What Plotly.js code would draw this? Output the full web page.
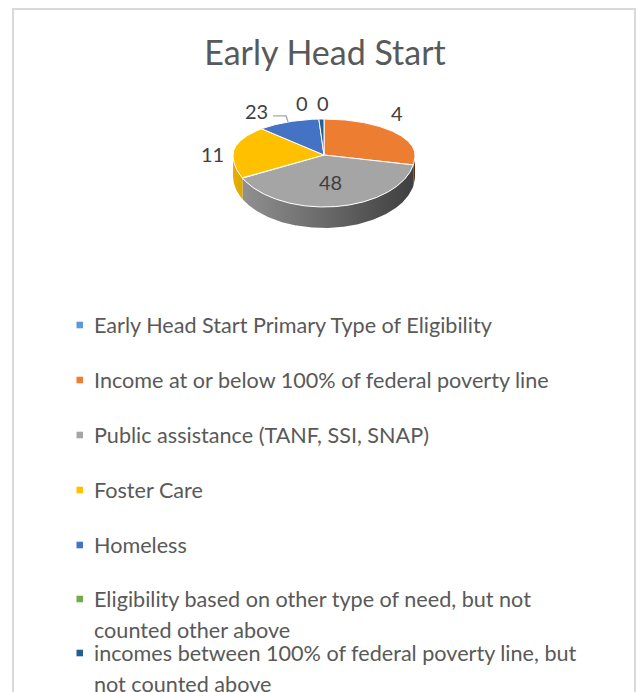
<!DOCTYPE html>
<html>
<head>
<meta charset="utf-8">
<script src="https://cdn.plot.ly/plotly-3.0.1.min.js"></script>
<style>html,body{margin:0;padding:0;background:#fff}#chart{width:642px;height:692px}</style>
</head>
<body>
<div id="chart"></div>
<script>
// ---------- data ----------
const chartTitle = "Early Head Start";
const categories = [
  "Early Head Start Primary Type of Eligibility",
  "Income at or below 100% of federal poverty line",
  "Public assistance (TANF, SSI, SNAP)",
  "Foster Care",
  "Homeless",
  "Eligibility based on other type of need, but not<br>counted other above",
  "incomes between 100% of federal poverty line, but<br>not counted above"
];
// slice sizes as drawn in the picture (share of the pie)
const sliceShares = [0, 28, 39.5, 20.3, 11.1, 0, 0.9];
// data labels as printed on the chart
const dataLabels = ["", "4", "48", "11", "23", "0", "0"];
const sliceColors = ["#5B9BD5", "#ED7D31", "#A5A5A5", "#FFC000", "#4472C4", "#70AD47", "#255E91"];

// ---------- styles / layout constants ----------
const G = {cx: 324, cy: 155, rx: 91, ryTop: 36, ryBot: 52, depth: 21, startDeg: 0};
const labelStyle = [null,
  {r: 1, dx: 3, dy: -19},
  {r: 0.5, dx: 0, dy: 1},
  {r: 1, dx: -22, dy: 5},
  {r: 1, dx: -32, dy: -11, leader: true},
  {r: 1, dx: -17, dy: -16},
  {r: 1, dx: 2, dy: -16}
];
const legendRowY = [325, 380, 435, 490, 545, 599, 653];
const legendLineStep = 30.5;
const FONT = "Lato, 'Open Sans', sans-serif";

function rimPoint(deg, r, dz) {
  const t = deg * Math.PI / 180, s = Math.sin(t), c = Math.cos(t);
  const ry = c >= 0 ? G.ryTop : G.ryBot;
  return [G.cx + r * G.rx * s, G.cy - r * ry * c + (dz || 0)];
}
function arc(a, b, dz) {
  const n = Math.max(2, Math.ceil(Math.abs(b - a) / 0.5));
  const pts = [];
  for (let i = 0; i <= n; i++) pts.push(rimPoint(a + (b - a) * i / n, 1, dz));
  return pts;
}
function shade(hex, f) {
  const v = parseInt(hex.slice(1), 16);
  const r = Math.round(((v >> 16) & 255) * f), g = Math.round(((v >> 8) & 255) * f), b = Math.round((v & 255) * f);
  return "rgb(" + r + "," + g + "," + b + ")";
}
function lightAt(x) { return 0.9 - 0.52 * (x - (G.cx - G.rx)) / (2 * G.rx); }

const total = sliceShares.reduce((a, b) => a + b, 0);
const ranges = [];
let acc = G.startDeg;
sliceShares.forEach(v => { const a = acc; acc += v / total * 360; ranges.push([a, acc]); });

const sideTraces = [], topTraces = [], annotations = [], shapes = [];
ranges.forEach(([a, b], i) => {
  // visible front wall
  const a2 = Math.max(a, 90), b2 = Math.min(b, 270);
  if (b2 > a2) {
    const top = arc(a2, b2, 0), bot = arc(b2, a2, G.depth);
    const pts = top.concat(bot);
    pts.push(top[0]);
    const xs = pts.map(p => p[0]), ys = pts.map(p => p[1]);
    const xmin = Math.min(...xs), xmax = Math.max(...xs);
    sideTraces.push({
      type: "scatter", mode: "lines", x: xs, y: ys, fill: "toself",
      fillgradient: {type: "horizontal", colorscale: [[0, shade(sliceColors[i], lightAt(xmin))], [1, shade(sliceColors[i], lightAt(xmax))]]},
      line: {width: 0}, hoverinfo: "skip", showlegend: false
    });
  }
  if (b - a > 0) {
    const pts = [[G.cx, G.cy]].concat(arc(a, b, 0));
    pts.push([G.cx, G.cy]);
    topTraces.push({
      type: "scatter", mode: "lines", x: pts.map(p => p[0]), y: pts.map(p => p[1]),
      fill: "toself", fillcolor: sliceColors[i], line: {color: "#ffffff", width: 1},
      name: categories[i], hoverinfo: "skip", showlegend: false
    });
  }
  // data labels
  const st = labelStyle[i];
  if (st && dataLabels[i] !== "") {
    const mid = (a + b) / 2;
    const base = rimPoint(mid, st.r, 0);
    const lx = base[0] + st.dx, ly = base[1] + st.dy;
    annotations.push({x: lx, y: ly, xref: "x", yref: "y", text: dataLabels[i], showarrow: false,
      xanchor: "center", yanchor: "middle", font: {family: FONT, size: 20, color: "#404040"}});
    if (st.leader) {
      topTraces.push({type: "scatter", mode: "lines",
        x: [lx + 17, lx + 30, base[0]], y: [ly + 5, ly + 5, base[1]],
        line: {color: "#a6a6a6", width: 1.3}, hoverinfo: "skip", showlegend: false});
    }
  }
});

// legend (drawn as text + swatches)
categories.forEach((name, i) => {
  const y0 = legendRowY[i];
  shapes.push({type: "rect", xref: "x", yref: "y", x0: 76.5, x1: 83, y0: y0 - 3.3, y1: y0 + 3.3,
    fillcolor: sliceColors[i], line: {width: 0}});
  name.split("<br>").forEach((line, k) => {
    annotations.push({x: 92, y: y0 + k * legendLineStep, xref: "x", yref: "y", text: line, showarrow: false,
      xanchor: "left", yanchor: "middle", font: {family: FONT, size: 21.6, color: "#595959"}});
  });
});
// chart frame
shapes.push({type: "rect", xref: "x", yref: "y", x0: 13, x1: 635, y0: 9, y1: 760,
  line: {color: "#d9d9d9", width: 2}, fillcolor: "rgba(0,0,0,0)", layer: "below"});

const layout = {
  width: 642, height: 692,
  margin: {l: 0, r: 0, t: 0, b: 0, pad: 0},
  paper_bgcolor: "#ffffff", plot_bgcolor: "#ffffff",
  showlegend: false,
  title: {text: chartTitle, x: 325 / 642, xanchor: "center", y: 1 - 53 / 692, yanchor: "middle",
    font: {family: FONT, size: 34, color: "#595959"}},
  xaxis: {range: [0, 642], visible: false, fixedrange: true},
  yaxis: {range: [692, 0], visible: false, fixedrange: true},
  annotations: annotations,
  shapes: shapes
};
Plotly.newPlot("chart", sideTraces.concat(topTraces), layout, {displayModeBar: false, staticPlot: true});
</script>
</body>
</html>
